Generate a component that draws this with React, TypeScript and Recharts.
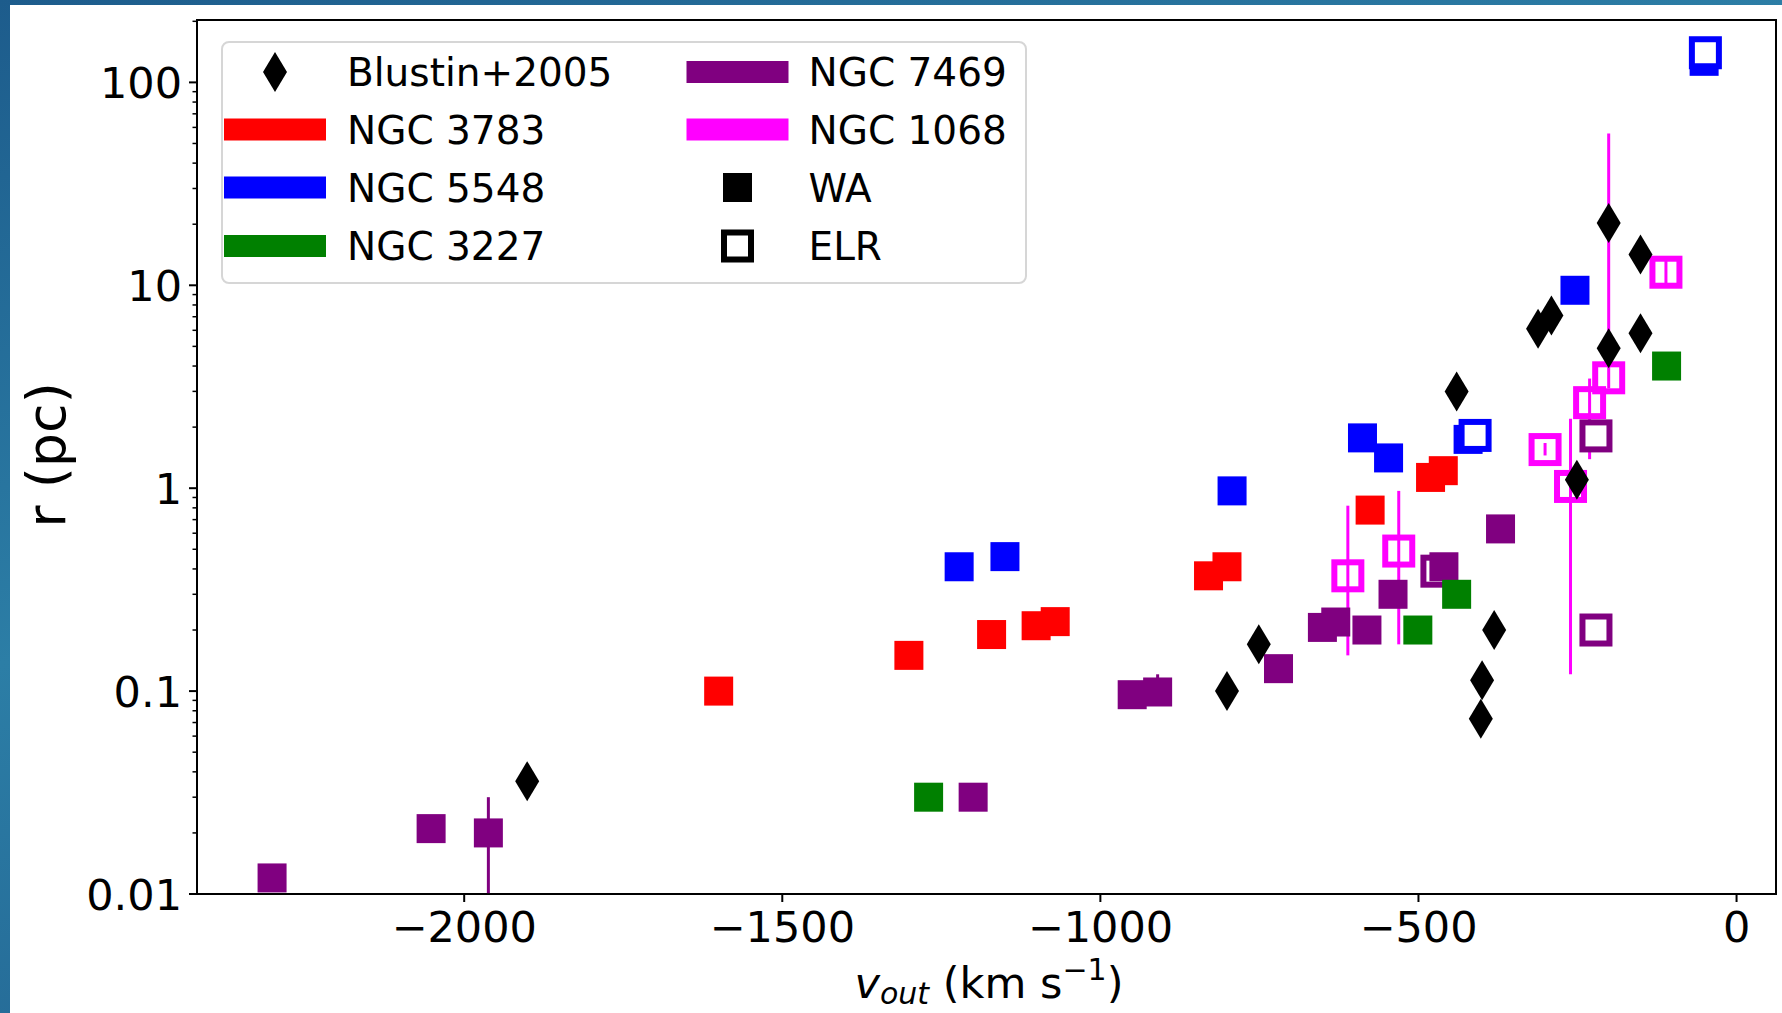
import React from 'react';
import { ScatterChart, Scatter, XAxis, YAxis, ErrorBar, ReferenceArea, Legend } from 'recharts';

const FONT = '"DejaVu Sans", Verdana, sans-serif';

// Blustin+2005 (diamonds)
const blustinV = [-1901, -801, -751, -440, -402, -400, -381, -312, -291, -251, -201, -201, -151, -151];
const blustinR = [0.036, 0.1, 0.17, 3.0, 0.073, 0.113, 0.2, 6.1, 7.1, 1.1, 20.3, 4.9, 14.2, 5.8];

// NGC 3783, WA
const n3783V = [-1600, -1301, -1171, -1101, -1071, -830, -801, -576, -481, -461];
const n3783R = [0.1, 0.15, 0.19, 0.21, 0.22, 0.37, 0.41, 0.78, 1.13, 1.22];

// NGC 5548, WA and ELR
const n5548V = [-1222, -1150, -793, -588, -547, -422, -254, -51];
const n5548R = [0.41, 0.46, 0.97, 1.77, 1.41, 1.74, 9.45, 127];
const n5548ElrV = [-411, -49];
const n5548ElrR = [1.82, 140];

// NGC 3227, WA
const n3227V = [-1270, -501, -440, -110];
const n3227R = [0.03, 0.2, 0.3, 4.0];

// NGC 7469, WA (with error range) and ELR
const n7469V = [-2302, -2052, -1962, -1200, -950, -910, -720, -651, -630, -581, -540, -460, -371];
const n7469R = [0.012, 0.021, 0.02, 0.03, 0.096, 0.099, 0.129, 0.206, 0.219, 0.2, 0.3, 0.41, 0.63];
const n7469Lo = [0.012, 0.021, 0.0101, 0.03, 0.096, 0.095, 0.129, 0.206, 0.219, 0.2, 0.3, 0.41, 0.63];
const n7469Hi = [0.012, 0.021, 0.03, 0.03, 0.096, 0.121, 0.129, 0.206, 0.219, 0.2, 0.3, 0.41, 0.63];
const n7469ElrV = [-471, -221, -221];
const n7469ElrR = [0.39, 1.81, 0.2];

// NGC 1068, ELR
const n1068V = [-611, -531, -301, -261, -231, -201, -111];
const n1068R = [0.37, 0.49, 1.55, 1.02, 2.64, 3.5, 11.6];
const n1068Lo = [0.15, 0.17, 1.45, 0.121, 1.39, 3.1, 10.2];
const n1068Hi = [0.82, 0.97, 1.67, 2.2, 3.47, 56, 13.2];

const xTicks = [-2000, -1500, -1000, -500, 0];
const yMajor = [0.01, 0.1, 1, 10, 100];
const yMinorMult = [2, 3, 4, 5, 6, 7, 8, 9];
const yTicks = yMajor.flatMap((d) => [d, ...yMinorMult.map((m) => m * d)]);

const X_DOMAIN: [number, number] = [-2420, 62];
const Y_DOMAIN: [number, number] = [0.01, 203];

const RED = '#ff0000';
const BLUE = '#0000ff';
const GREEN = '#008000';
const PURPLE = '#800080';
const MAGENTA = '#ff00ff';

const toPoints = (v: number[], r: number[], lo?: number[], hi?: number[]) =>
  v.map((x, i) => ({
    v: x,
    r: r[i],
    err: lo && hi ? [r[i] - lo[i], hi[i] - r[i]] : [0, 0],
  }));

const filledSquare = (color: string) => (props: any) => {
  const { cx, cy } = props;
  return <rect x={cx - 14.5} y={cy - 14.5} width={29} height={29} fill={color} />;
};

const hollowSquare = (color: string, face: string) => (props: any) => {
  const { cx, cy } = props;
  return (
    <rect x={cx - 13.5} y={cy - 13.5} width={27} height={27} fill={face} stroke={color} strokeWidth={6} />
  );
};

const diamond = (props: any) => {
  const { cx, cy } = props;
  return <path d={`M${cx},${cy - 20}L${cx + 12},${cy}L${cx},${cy + 20}L${cx - 12},${cy}Z`} fill="#000" />;
};

const fmtX = (v: number) => (v < 0 ? `\u2212${Math.abs(v)}` : `${v}`);

const XTick = (props: any) => {
  const { x, y, payload } = props;
  return (
    <g>
      <line x1={x} x2={x} y1={y - 17} y2={y - 9} stroke="#000" strokeWidth={2} />
      <text x={x} y={y + 31} textAnchor="middle" fontSize={43} fontFamily={FONT} fill="#000">
        {fmtX(payload.value)}
      </text>
    </g>
  );
};

const YTick = (props: any) => {
  const { x, y, payload } = props;
  const lg = Math.log10(payload.value);
  const major = Math.abs(lg - Math.round(lg)) < 1e-6;
  const axisX = x + 15;
  return (
    <g>
      <line x1={axisX - (major ? 8 : 4.5)} x2={axisX} y1={y} y2={y} stroke="#000" strokeWidth={major ? 2 : 1.5} />
      {major && (
        <text x={x} y={y + 15.7} textAnchor="end" fontSize={43} fontFamily={FONT} fill="#000">
          {String(payload.value)}
        </text>
      )}
    </g>
  );
};

const renderXLabel = () => (
  <text x={989} y={998} textAnchor="middle" fontSize={43} fontFamily={FONT} fill="#000" style={{ whiteSpace: 'pre' }}>
    <tspan fontStyle="italic">v</tspan>
    <tspan fontStyle="italic" fontSize={30} dy={6}>out</tspan>
    <tspan dy={-6}> (km s</tspan>
    <tspan fontSize={30} dy={-18}>{'\u22121'}</tspan>
    <tspan dy={18}>)</tspan>
  </text>
);

const renderYLabel = () => (
  <text x={65} y={455} transform="rotate(-90 65 455)" textAnchor="middle" fontSize={54} fontFamily={FONT} fill="#000">
    r (pc)
  </text>
);

const legendCols = [
  [
    { label: 'Blustin+2005', kind: 'diamond', color: '#000' },
    { label: 'NGC 3783', kind: 'patch', color: RED },
    { label: 'NGC 5548', kind: 'patch', color: BLUE },
    { label: 'NGC 3227', kind: 'patch', color: GREEN },
  ],
  [
    { label: 'NGC 7469', kind: 'patch', color: PURPLE },
    { label: 'NGC 1068', kind: 'patch', color: MAGENTA },
    { label: 'WA', kind: 'filled', color: '#000' },
    { label: 'ELR', kind: 'hollow', color: '#000' },
  ],
];

const LegendBox = () => {
  const colX = [54, 516.5];
  const textX = [126, 587.5];
  const rowY = [31, 88.5, 146.5, 205];
  return (
    <svg width={806} height={243} style={{ display: 'block' }}>
      <rect x={1} y={1} width={804} height={241} rx={7} fill="rgba(255,255,255,0.8)" stroke="#d6d6d6" strokeWidth={2} />
      {legendCols.map((col, ci) =>
        col.map((item, ri) => {
          const cx = colX[ci];
          const cy = rowY[ri];
          let handle = null;
          if (item.kind === 'patch') {
            handle = <rect x={cx - 51} y={cy - 11} width={102} height={22} fill={item.color} />;
          } else if (item.kind === 'diamond') {
            handle = <path d={`M${cx},${cy - 20}L${cx + 12},${cy}L${cx},${cy + 20}L${cx - 12},${cy}Z`} fill="#000" />;
          } else if (item.kind === 'filled') {
            handle = <rect x={cx - 14.5} y={cy - 14.5} width={29} height={29} fill="#000" />;
          } else {
            handle = <rect x={cx - 13.5} y={cy - 13.5} width={27} height={27} fill="none" stroke="#000" strokeWidth={6} />;
          }
          return (
            <g key={item.label}>
              {handle}
              <text x={textX[ci]} y={cy + 14} fontSize={39} fontFamily={FONT} fill="#000">
                {item.label}
              </text>
            </g>
          );
        })
      )}
    </svg>
  );
};

export default function App() {
  return (
    <div
      style={{
        position: 'absolute',
        left: 0,
        top: 0,
        width: 1782,
        height: 1013,
        background: 'linear-gradient(160deg, #1d5c8c 0%, #2c7ea6 40%, #1b4f82 100%)',
        overflow: 'hidden',
      }}
    >
      <div style={{ position: 'absolute', left: 10, top: 5, right: 0, bottom: 0, background: '#fff' }} />
      <div style={{ position: 'absolute', left: 0, top: 0 }}>
        <ScatterChart width={1782} height={1013} margin={{ top: 20, right: 6, bottom: 0, left: 0 }}>
          <XAxis
            dataKey="v"
            type="number"
            domain={X_DOMAIN}
            ticks={xTicks}
            allowDataOverflow
            interval={0}
            height={119}
            axisLine={false}
            tickLine={false}
            tickSize={8}
            tickMargin={9}
            tick={<XTick />}
            label={renderXLabel}
          />
          <YAxis
            dataKey="r"
            type="number"
            scale="log"
            domain={Y_DOMAIN}
            ticks={yTicks}
            allowDataOverflow
            interval={0}
            width={197}
            axisLine={false}
            tickLine={false}
            tickSize={8}
            tickMargin={7}
            tick={<YTick />}
            label={renderYLabel}
          />
          <ReferenceArea
            x1={X_DOMAIN[0]}
            x2={X_DOMAIN[1]}
            y1={Y_DOMAIN[0]}
            y2={Y_DOMAIN[1]}
            fill="none"
            fillOpacity={0}
            stroke="#000"
            strokeWidth={2}
            ifOverflow="visible"
          />
          <Scatter data={toPoints(n7469ElrV, n7469ElrR)} shape={hollowSquare(PURPLE, '#fff')} isAnimationActive={false} />
          <Scatter data={toPoints(n7469V, n7469R, n7469Lo, n7469Hi)} shape={filledSquare(PURPLE)} isAnimationActive={false}>
            <ErrorBar dataKey="err" direction="y" width={0} stroke={PURPLE} strokeWidth={3} />
          </Scatter>
          <Scatter data={toPoints(n3783V, n3783R)} shape={filledSquare(RED)} isAnimationActive={false} />
          <Scatter data={toPoints(n5548V, n5548R)} shape={filledSquare(BLUE)} isAnimationActive={false} />
          <Scatter data={toPoints(n5548ElrV, n5548ElrR)} shape={hollowSquare(BLUE, '#fff')} isAnimationActive={false} />
          <Scatter data={toPoints(n3227V, n3227R)} shape={filledSquare(GREEN)} isAnimationActive={false} />
          <Scatter data={toPoints(n1068V, n1068R, n1068Lo, n1068Hi)} shape={hollowSquare(MAGENTA, 'none')} isAnimationActive={false}>
            <ErrorBar dataKey="err" direction="y" width={0} stroke={MAGENTA} strokeWidth={3} />
          </Scatter>
          <Scatter data={toPoints(blustinV, blustinR)} shape={diamond} isAnimationActive={false} />
          <Legend
            verticalAlign="middle"
            align="center"
            layout="horizontal"
            wrapperStyle={{ left: 221, top: 41, width: 806, height: 243 }}
            content={() => <LegendBox />}
          />
        </ScatterChart>
      </div>
    </div>
  );
}
